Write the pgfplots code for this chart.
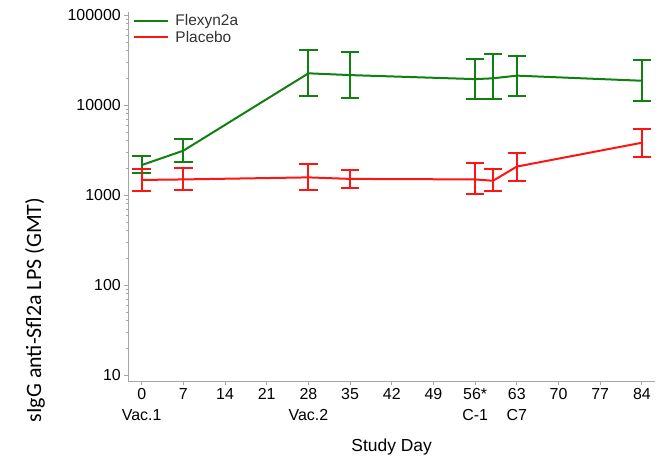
\documentclass[border=0pt]{standalone}
\usepackage{pgfplots}
\pgfplotsset{compat=1.18}
\usepackage{fontspec}
\setmainfont{Liberation Sans}
\newfontfamily\calibri{Carlito}
\definecolor{fgreen}{RGB}{16,128,16}
\definecolor{fred}{RGB}{255,20,20}
\definecolor{axgray}{RGB}{165,165,165}
\definecolor{legtext}{RGB}{50,50,50}
\pgfplotstableread{
d v ep em
0 2150 580 410
7 3110 1080 800
28 22500 18600 10000
35 21500 17000 9400
56 19400 13000 7700
59 19800 17100 8200
63 21200 13800 8600
84 18600 12800 7400
}\flex
\pgfplotstableread{
d v ep em
0 1470 470 360
7 1490 520 350
28 1570 620 430
35 1510 400 310
56 1490 780 470
59 1440 520 340
63 2070 880 640
84 3810 1600 1170
}\plac
\begin{document}
\begin{tikzpicture}
\useasboundingbox (-128.3bp,-75bp) rectangle (535.7bp,381bp);
\begin{axis}[
  at={(0,0)}, anchor=south west,
  scale only axis, width=526.7bp, height=369bp,
  ymode=log, xmin=-2.25, xmax=86.2, ymin=8.58, ymax=1.08e5,
  axis x line*=bottom, axis y line*=left,
  axis line style={axgray, line width=0.8bp},
  xtick={0,7,14,21,28,35,42,49,56,63,70,77,84},
  xticklabels={{0\\Vac.1},7,14,21,{28\\Vac.2},35,42,49,{56*\\C-1},{63\\C7},70,77,84},
  xticklabel style={align=center, font=\fontsize{16}{20.7}\selectfont},
  ytick={10,100,1000,10000,100000},
  yticklabels={10,100,1000,10000,100000},
  minor ytick={20,30,40,50,60,70,80,90,200,300,400,500,600,700,800,900,2000,3000,4000,5000,6000,7000,8000,9000,2e4,3e4,4e4,5e4,6e4,7e4,8e4,9e4},
  yticklabel style={font=\fontsize{16}{19}\selectfont},
  /pgf/number format/assume math mode=true,
  tick align=outside, major tick length=4bp, minor tick length=2.5bp,
  tick style={axgray, line width=0.8bp},
  xlabel={Study Day},
  xlabel style={at={(rel axis cs:0.5,0)}, anchor=base, yshift=-70bp, font=\fontsize{17.5}{20}\selectfont},
  ylabel={\calibri sIgG anti-Sfl2a LPS (GMT)},
  ylabel style={at={(rel axis cs:-0.1771,0.1924)}, anchor=center, font=\fontsize{22}{26}\selectfont},
  legend style={at={(rel axis cs:0,1)}, anchor=north west, draw=none, fill=none,
    font=\fontsize{15.5}{18}\selectfont, text=legtext, row sep=0bp, xshift=2bp, yshift=2bp,
    cells={anchor=west}},
  clip=false,
]
\addplot[fgreen, line width=2bp, mark=none,
  legend image code/.code={\draw[fgreen, line width=2bp] (0bp,0bp) -- (34bp,0bp); \path (38bp,0bp);},
  error bars/.cd, y dir=both, y explicit,
  error bar style={fgreen, line width=2bp},
  error mark options={fgreen, line width=2bp, mark size=9.3bp, rotate=90}]
  table[x=d, y=v, y error plus=ep, y error minus=em] {\flex};
\addlegendentry{Flexyn2a}
\addplot[fred, line width=2bp, mark=none,
  legend image code/.code={\draw[fred, line width=2bp] (0bp,0bp) -- (34bp,0bp); \path (38bp,0bp);},
  error bars/.cd, y dir=both, y explicit,
  error bar style={fred, line width=2bp},
  error mark options={fred, line width=2bp, mark size=9.3bp, rotate=90}]
  table[x=d, y=v, y error plus=ep, y error minus=em] {\plac};
\addlegendentry{Placebo}
\end{axis}
\end{tikzpicture}
\end{document}
